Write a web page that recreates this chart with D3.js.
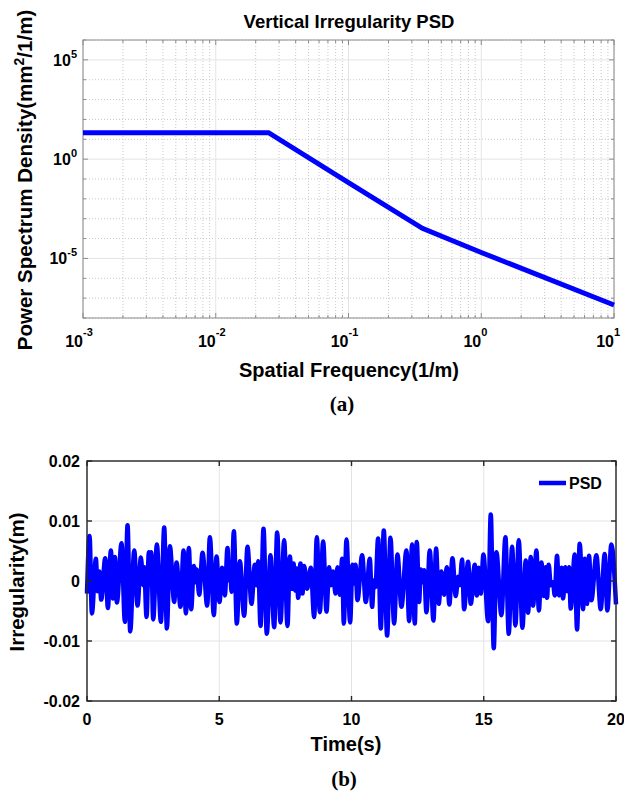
<!DOCTYPE html>
<html>
<head>
<meta charset="utf-8">
<script src="https://cdn.jsdelivr.net/npm/d3@7/dist/d3.min.js"></script>
<style>
body { margin: 0; background: #fff; }
svg { display: block; font-family: "Liberation Sans", Arial, sans-serif; font-weight: bold; }
</style>
</head>
<body>
<svg width="624" height="796"></svg>
<script>
// (a) PSD
var psdFreq  = [0.001, 0.025, 0.1, 0.36, 1, 10];
var psdValue = [21.5, 21.5, 0.066, 3.3e-4, 2.0e-5, 4.5e-8];
var xTickExp = [-3, -2, -1, 0, 1];
var yTickExp = [5, 0, -5];

// (b) irregularity time history (peaks/troughs, mm)
var timeS = [0, 0.097, 0.185, 0.336, 0.399, 0.462, 0.538, 0.689, 0.790, 0.903, 0.979, 1.054, 1.130, 1.306, 1.432, 1.533, 1.634, 1.785, 1.911, 2.037,
  2.125, 2.163, 2.251, 2.339, 2.402, 2.428, 2.503, 2.642, 2.793, 2.919, 3.020, 3.133, 3.297, 3.385, 3.536, 3.650, 3.738, 3.851, 3.939, 4.040,
  4.116, 4.153, 4.242, 4.368, 4.544, 4.645, 4.796, 4.897, 5.010, 5.111, 5.212, 5.312, 5.375, 5.413, 5.464, 5.552, 5.665, 5.779, 5.942, 6.068,
  6.219, 6.345, 6.408, 6.471, 6.560, 6.673, 6.799, 6.937, 7.076, 7.190, 7.315, 7.454, 7.580, 7.668, 7.756, 7.807, 7.882, 7.933, 7.983, 8.071,
  8.147, 8.210, 8.323, 8.462, 8.588, 8.689, 8.802, 8.928, 9.054, 9.155, 9.218, 9.306, 9.394, 9.470, 9.558, 9.646, 9.709, 9.810, 9.948, 10.036,
  10.099, 10.150, 10.225, 10.402, 10.540, 10.692, 10.780, 10.843, 10.906, 11.006, 11.107, 11.221, 11.347, 11.473, 11.611, 11.737, 11.888, 12.077, 12.178, 12.292,
  12.392, 12.468, 12.556, 12.619, 12.682, 12.745, 12.833, 12.959, 13.098, 13.198, 13.299, 13.400, 13.501, 13.602, 13.700, 13.816, 13.942, 14.030, 14.093, 14.181,
  14.257, 14.408, 14.509, 14.660, 14.736, 14.811, 14.887, 14.988, 15.164, 15.265, 15.378, 15.479, 15.668, 15.819, 15.945, 16.071, 16.197, 16.323, 16.462, 16.587,
  16.676, 16.777, 16.865, 16.991, 17.085, 17.179, 17.268, 17.343, 17.393, 17.456, 17.532, 17.620, 17.683, 17.771, 17.847, 17.935, 17.998, 18.087, 18.149, 18.225,
  18.288, 18.439, 18.527, 18.628, 18.754, 18.817, 18.905, 18.981, 19.069, 19.258, 19.422, 19.573, 19.673, 19.824, 20];
var irregularityMM = [-2.1, 7.5, -5.4, 3.7, -1.7, 1.6, -3.1, 3.8, -4.5, 5.1, -2.9, 4.0, -3.6, 6.3, -6.8, 9.3, -8.4, 5.1, -4.1, 3.9,
  -0.7, 2.3, -6.0, 4.8, -0.2, 4.8, -6.4, 6.1, -6.8, 8.9, -7.9, 5.8, -3.5, 3.1, -4.3, 5.1, -5.4, 5.5, -4.7, 2.5,
  -0.2, 1.9, -2.3, 4.7, -4.1, 7.3, -5.7, 4.1, -3.5, 2.2, -2.4, 5.5, 0.1, 2.1, -1.8, 8.3, -7.1, 3.3, -5.8, 5.7,
  -3.8, 2.7, -0.7, 3.3, -7.5, 8.7, -8.8, 4.3, -7.7, 8.1, -6.9, 6.8, -7.5, 4.1, -1.3, 2.9, -1.6, 2.1, -2.8, 2.9,
  -2.1, 2.5, -1.3, 2.2, -6.0, 7.3, -5.2, 6.6, -5.1, 2.3, -0.7, 1.6, -2.1, 2.3, -2.3, 3.7, -7.1, 6.9, -6.9, 2.7,
  -0.4, 2.7, -3.2, 4.3, -3.5, 3.7, -4.3, 0.1, -1.0, 7.1, -7.9, 8.4, -9.1, 7.2, -7.1, 4.4, -4.3, 5.1, -6.7, 6.1,
  -7.1, 6.5, -3.5, 1.9, -0.2, 1.8, -5.2, 5.1, -6.6, 5.4, -3.8, 1.6, -2.3, 2.3, -3.9, 3.8, -2.5, 0.7, -0.7, 3.6,
  -4.7, 3.2, -3.8, 2.7, -2.4, 2.2, -2.1, 4.4, -6.7, 11.1, -11.2, 4.8, -5.7, 7.3, -8.8, 5.7, -7.4, 6.8, -7.8, 3.4,
  -5.3, 4.0, -4.1, 5.1, -4.9, 3.1, -2.5, 2.3, -2.8, 2.7, -0.7, -0.2, -2.4, 4.2, -2.4, 2.2, -2.9, 2.3, -1.7, 2.3,
  -4.6, 4.4, -8.1, 6.2, -4.7, 3.7, -3.8, 4.2, -3.2, 4.3, -4.7, 4.5, -4.9, 6.1, -3.9];
var timeTicks = [0, 5, 10, 15, 20];
var irrTicks = [-0.02, -0.01, 0, 0.01, 0.02];
var irrTickLabels = ["-0.02", "-0.01", "0", "0.01", "0.02"];

var svg = d3.select("svg");
var blue = "#0000ff";

function isDecade(d) {
  var l = Math.log10(d);
  return Math.abs(l - Math.round(l)) < 1e-9;
}

// ---------- (a)
var x1 = d3.scaleLog().domain([1e-3, 1e1]).range([83, 614]),
    y1 = d3.scaleLog().domain([1e-8, 1e6]).range([318, 40]);

var g1 = svg.append("g");
var xMinor = x1.ticks().filter(function(d) { return !isDecade(d); });
var yDecades = d3.range(-8, 7).map(function(e) { return Math.pow(10, e); });
var yMinor = yDecades.filter(function(d) { return yTickExp.indexOf(Math.round(Math.log10(d))) < 0; });

// dotted minor grid
g1.selectAll(".xm").data(xMinor).enter().append("line")
    .attr("x1", x1).attr("x2", x1).attr("y1", 40).attr("y2", 318)
    .attr("stroke", "#c8c8c8").attr("stroke-dasharray", "1,2");
g1.selectAll(".ym").data(yMinor).enter().append("line")
    .attr("x1", 83).attr("x2", 614).attr("y1", y1).attr("y2", y1)
    .attr("stroke", "#c8c8c8").attr("stroke-dasharray", "1,2");
// solid major grid
g1.selectAll(".xM").data(xTickExp).enter().append("line")
    .attr("x1", function(e) { return x1(Math.pow(10, e)); }).attr("x2", function(e) { return x1(Math.pow(10, e)); })
    .attr("y1", 40).attr("y2", 318).attr("stroke", "#e4e4e4");
g1.selectAll(".yM").data(yTickExp).enter().append("line")
    .attr("x1", 83).attr("x2", 614)
    .attr("y1", function(e) { return y1(Math.pow(10, e)); }).attr("y2", function(e) { return y1(Math.pow(10, e)); })
    .attr("stroke", "#e4e4e4");

// ticks
x1.ticks().forEach(function(d) {
  var len = isDecade(d) ? 5 : 3, x = x1(d);
  g1.append("line").attr("x1", x).attr("x2", x).attr("y1", 318).attr("y2", 318 - len).attr("stroke", "#8c8c8c");
  g1.append("line").attr("x1", x).attr("x2", x).attr("y1", 40).attr("y2", 40 + len).attr("stroke", "#8c8c8c");
});
yDecades.forEach(function(d) {
  var len = yTickExp.indexOf(Math.round(Math.log10(d))) >= 0 ? 5 : 3, y = y1(d);
  g1.append("line").attr("x1", 83).attr("x2", 83 + len).attr("y1", y).attr("y2", y).attr("stroke", "#8c8c8c");
  g1.append("line").attr("x1", 614).attr("x2", 614 - len).attr("y1", y).attr("y2", y).attr("stroke", "#8c8c8c");
});

g1.append("rect").attr("x", 83).attr("y", 40).attr("width", 531).attr("height", 278)
    .attr("fill", "none").attr("stroke", "#8c8c8c");

var psdLine = d3.line()
    .x(function(d, i) { return x1(psdFreq[i]); })
    .y(function(d) { return y1(d); });
g1.append("path").datum(psdValue).attr("d", psdLine)
    .attr("fill", "none").attr("stroke", blue).attr("stroke-width", 5);

// tick labels
xTickExp.forEach(function(e) {
  var x = x1(Math.pow(10, e));
  g1.append("text").attr("x", x).attr("y", 347).attr("text-anchor", "end")
      .attr("font-size", 16).text("10");
  g1.append("text").attr("x", x).attr("y", 336).attr("font-size", 11).text(e);
});
yTickExp.forEach(function(e) {
  var t = g1.append("text").attr("x", 77).attr("y", y1(Math.pow(10, e)) + 6)
      .attr("text-anchor", "end").attr("font-size", 16);
  t.append("tspan").text("10");
  t.append("tspan").attr("dy", -8).attr("font-size", 11).text(e);
});

g1.append("text").attr("x", 349).attr("y", 28).attr("text-anchor", "middle")
    .attr("font-size", 18.5).text("Vertical Irregularity PSD");
g1.append("text").attr("x", 349).attr("y", 377).attr("text-anchor", "middle")
    .attr("font-size", 20).text("Spatial Frequency(1/m)");
var yl = g1.append("text").attr("transform", "translate(32,180) rotate(-90)")
    .attr("text-anchor", "middle").attr("font-size", 20.5);
yl.append("tspan").text("Power Spectrum Density(mm");
yl.append("tspan").attr("dy", -8).attr("font-size", 14).text("2");
yl.append("tspan").attr("dy", 8).text("/1/m)");

svg.append("text").attr("x", 342).attr("y", 411).attr("text-anchor", "middle")
    .attr("font-family", "'Liberation Serif', 'Times New Roman', serif").attr("font-size", 21).text("(a)");

// ---------- (b)
var x2 = d3.scaleLinear().domain([0, 20]).range([87, 616]),
    y2 = d3.scaleLinear().domain([-0.02, 0.02]).range([701, 461]);

var g2 = svg.append("g");
g2.selectAll(".gx").data(timeTicks).enter().append("line")
    .attr("x1", x2).attr("x2", x2).attr("y1", 461).attr("y2", 701).attr("stroke", "#e3e3e3");
g2.selectAll(".gy").data(irrTicks).enter().append("line")
    .attr("x1", 87).attr("x2", 616).attr("y1", y2).attr("y2", y2).attr("stroke", "#e3e3e3");

var irrLine = d3.line()
    .x(function(d, i) { return x2(timeS[i]); })
    .y(function(d) { return y2(d / 1000); })
    .curve(d3.curveMonotoneX);
g2.append("path").datum(irregularityMM).attr("d", irrLine)
    .attr("fill", "none").attr("stroke", blue).attr("stroke-width", 4.5)
    .attr("stroke-linejoin", "round");

g2.append("rect").attr("x", 87).attr("y", 461).attr("width", 529).attr("height", 240)
    .attr("fill", "none").attr("stroke", "#262626").attr("stroke-width", 1.4);
timeTicks.forEach(function(t) {
  var x = x2(t);
  g2.append("line").attr("x1", x).attr("x2", x).attr("y1", 701).attr("y2", 696).attr("stroke", "#262626").attr("stroke-width", 1.4);
  g2.append("line").attr("x1", x).attr("x2", x).attr("y1", 461).attr("y2", 466).attr("stroke", "#262626").attr("stroke-width", 1.4);
  g2.append("text").attr("x", x).attr("y", 725).attr("text-anchor", "middle").attr("font-size", 16).text(t);
});
irrTicks.forEach(function(v, i) {
  var y = y2(v);
  g2.append("line").attr("x1", 87).attr("x2", 92).attr("y1", y).attr("y2", y).attr("stroke", "#262626").attr("stroke-width", 1.4);
  g2.append("line").attr("x1", 616).attr("x2", 611).attr("y1", y).attr("y2", y).attr("stroke", "#262626").attr("stroke-width", 1.4);
  g2.append("text").attr("x", 80).attr("y", y + 6).attr("text-anchor", "end").attr("font-size", 16).text(irrTickLabels[i]);
});

// legend
g2.append("line").attr("x1", 539).attr("x2", 566).attr("y1", 483).attr("y2", 483)
    .attr("stroke", blue).attr("stroke-width", 4.5);
g2.append("text").attr("x", 569).attr("y", 489).attr("font-size", 16).text("PSD");

g2.append("text").attr("x", 346).attr("y", 751).attr("text-anchor", "middle")
    .attr("font-size", 20).text("Time(s)");
g2.append("text").attr("transform", "translate(24,582) rotate(-90)")
    .attr("text-anchor", "middle").attr("font-size", 20.5).text("Irregularity(m)");

svg.append("text").attr("x", 344).attr("y", 786).attr("text-anchor", "middle")
    .attr("font-family", "'Liberation Serif', 'Times New Roman', serif").attr("font-size", 21).text("(b)");
</script>
</body>
</html>
